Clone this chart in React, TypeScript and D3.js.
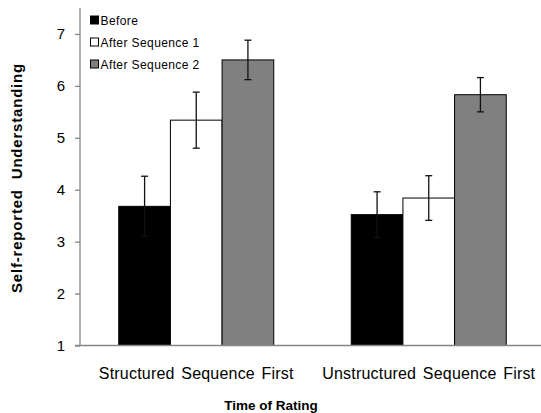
import React, { useEffect, useRef } from "react";
import * as d3 from "d3";

const categories = ["Structured Sequence First", "Unstructured Sequence First"];
const seriesNames = ["Before", "After Sequence 1", "After Sequence 2"];
const before = [3.68, 3.52];
const afterSeq1 = [5.34, 3.84];
const afterSeq2 = [6.5, 5.83];
const errBefore = [0.58, 0.44];
const errSeq1 = [0.54, 0.43];
const errSeq2 = [0.38, 0.33];
const yTicks = [1, 2, 3, 4, 5, 6, 7];

const fills = ["#000000", "#ffffff", "#808080"];

const W = 541;
const H = 413;

export default function App() {
  const ref = useRef<SVGSVGElement>(null);

  useEffect(() => {
    const svg = d3.select(ref.current);
    svg.selectAll("*").remove();

    const font = "'Liberation Sans', Arial, sans-serif";
    const y = d3.scaleLinear().domain([1, 7.5]).range([345.5, 8]);
    const x0 = d3.scaleBand<string>().domain(categories).range([80, 545]).padding(0);
    const barW = x0.bandwidth() / 4.5;
    const x1 = d3
      .scaleBand<string>()
      .domain(seriesNames)
      .range([barW * 0.75, barW * 3.75])
      .padding(0);

    const values = [before, afterSeq1, afterSeq2];
    const errs = [errBefore, errSeq1, errSeq2];

    const rows: { c: string; s: string; v: number; e: number; i: number }[] = [];
    categories.forEach((c, ci) => {
      seriesNames.forEach((s, si) => {
        rows.push({ c, s, v: values[si][ci], e: errs[si][ci], i: si });
      });
    });

    // bars
    svg
      .append("g")
      .selectAll("rect")
      .data(rows)
      .join("rect")
      .attr("x", (d) => x0(d.c)! + x1(d.s)!)
      .attr("y", (d) => y(d.v))
      .attr("width", x1.bandwidth())
      .attr("height", (d) => y(1) - y(d.v))
      .attr("fill", (d) => fills[d.i])
      .attr("stroke", "#000")
      .attr("stroke-width", 1);

    // error bars
    const eg = svg.append("g").attr("stroke", "#111").attr("stroke-width", 1.3);
    rows.forEach((d) => {
      const cx = x0(d.c)! + x1(d.s)! + x1.bandwidth() / 2;
      const top = y(d.v + d.e);
      const bot = y(d.v - d.e);
      eg.append("line").attr("x1", cx).attr("x2", cx).attr("y1", top).attr("y2", bot);
      eg.append("line").attr("x1", cx - 3.5).attr("x2", cx + 3.5).attr("y1", top).attr("y2", top);
      eg.append("line").attr("x1", cx - 3.5).attr("x2", cx + 3.5).attr("y1", bot).attr("y2", bot);
    });

    // y axis
    const yAxis = d3
      .axisLeft(y)
      .tickValues(yTicks)
      .tickSize(5)
      .tickPadding(10)
      .tickFormat(d3.format("d"));
    const ya = svg.append("g").attr("transform", "translate(80,0)").call(yAxis);
    ya.select(".domain").attr("stroke", "#868686").attr("stroke-width", 1.3).attr("d", `M0,${y(7.5)}V${y(1)}`);
    ya.selectAll(".tick line").attr("stroke", "#868686").attr("stroke-width", 1.3);
    ya.selectAll(".tick text")
      .attr("fill", "#000")
      .style("font-family", font)
      .style("font-size", "15px");

    // x axis
    const xAxis = d3.axisBottom(x0).tickSize(0).tickPadding(0);
    const xa = svg.append("g").attr("transform", `translate(0,${y(1)})`).call(xAxis);
    xa.select(".domain").attr("stroke", "#868686").attr("stroke-width", 1.5).attr("d", `M75,0H545`);
    xa.selectAll(".tick text")
      .attr("fill", "#000")
      .attr("dy", 0)
      .attr("y", 33)
      .style("font-family", font)
      .style("font-size", "16px")
      .style("letter-spacing", "0.2px")
      .style("word-spacing", "2px");

    // axis titles
    svg
      .append("text")
      .attr("transform", `translate(22,178) rotate(-90)`)
      .attr("text-anchor", "middle")
      .style("font-family", font)
      .style("font-size", "15px")
      .style("font-weight", "bold")
      .style("letter-spacing", "0.8px")
      .style("word-spacing", "5px")
      .text("Self-reported Understanding");

    svg
      .append("text")
      .attr("x", 271)
      .attr("y", 410)
      .attr("text-anchor", "middle")
      .style("font-family", font)
      .style("font-size", "13.5px")
      .style("font-weight", "bold")
      .text("Time of Rating");

    // legend
    const lg = svg.append("g");
    seriesNames.forEach((s, i) => {
      const base = 24.5 + i * 22;
      lg.append("rect")
        .attr("x", 90.5)
        .attr("y", base - 8.5)
        .attr("width", 8)
        .attr("height", 8)
        .attr("fill", fills[i])
        .attr("stroke", "#000")
        .attr("stroke-width", 1);
      lg.append("text")
        .attr("x", 100.5)
        .attr("y", base)
        .style("font-family", font)
        .style("font-size", "12px")
        .style("letter-spacing", "0.4px")
        .text(s);
    });
  }, []);

  return (
    <div style={{ position: "fixed", left: 0, top: 0 }}>
      <svg ref={ref} width={W} height={H} style={{ display: "block", background: "#fff" }} />
    </div>
  );
}
